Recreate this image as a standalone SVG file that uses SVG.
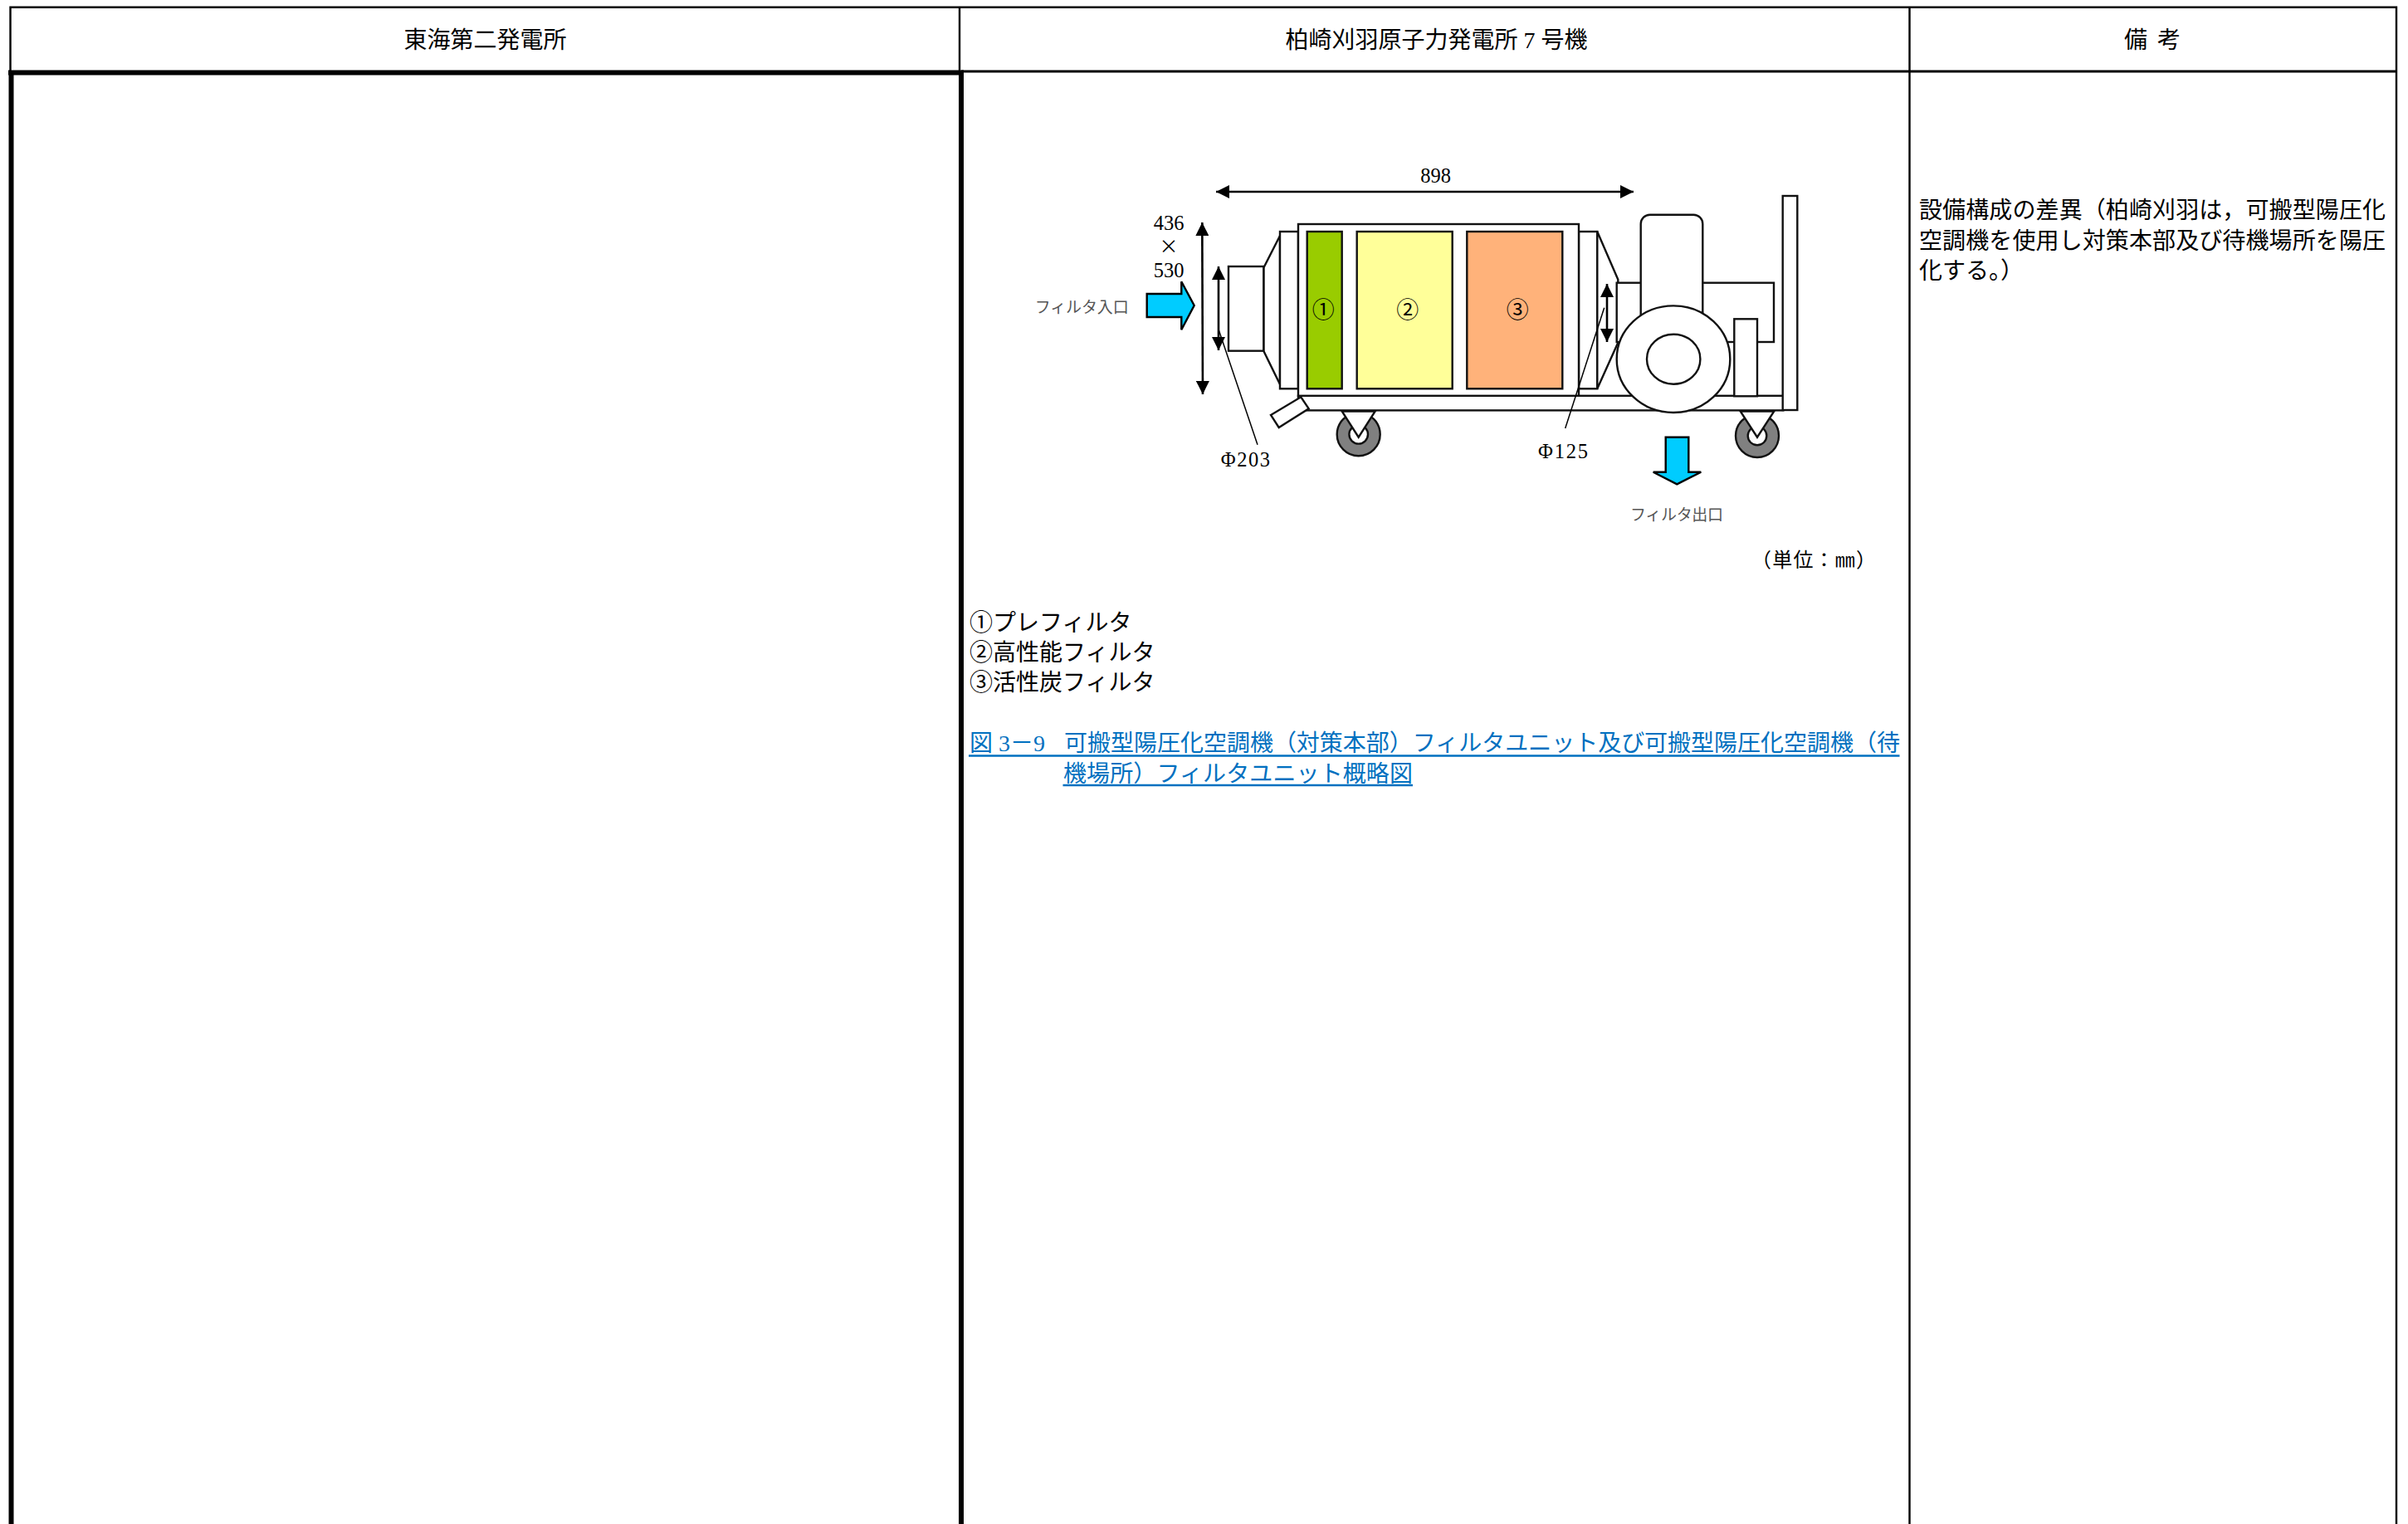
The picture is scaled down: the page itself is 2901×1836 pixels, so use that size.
<svg xmlns="http://www.w3.org/2000/svg" width="2901" height="1836" viewBox="0 0 2901 1836">
<defs>
<style>
text{font-family:"Liberation Serif","Noto Sans CJK JP",serif;fill:#000}
.h{font-size:28px;text-anchor:middle}
.b{font-size:28px}
.d{font-size:24.5px}
.x{font-size:23px;font-family:"Noto Sans CJK JP",sans-serif}
.s{font-size:19px;fill:#555}
.c{font-size:27px;text-anchor:middle}
.u{font-size:24px}
.l{font-size:28px;fill:#0070c0}
.o{fill:#fff;stroke:#111;stroke-width:2.4}
.cn{fill:none;stroke:#000;stroke-width:2.6}
.ld{fill:none;stroke:#000;stroke-width:1.5}
.arr{fill:#00ccff;stroke:#000;stroke-width:2.4}
.w{fill:#808080;stroke:#111;stroke-width:2.4}
</style>
<marker id="ah" markerUnits="userSpaceOnUse" markerWidth="16" markerHeight="16" viewBox="0 0 14 14" refX="14" refY="7" orient="auto-start-reverse"><path d="M0 0L14 7L0 14Z" fill="#000"/></marker>
</defs>
<rect width="2901" height="1836" fill="#fff"/>
<g id="table">
<path d="M12.5 87V8.7H2887V1836M1156 8.7V86M2300.5 8.7V1836" fill="none" stroke="#000" stroke-width="2.4"/>
<path d="M1158 86H2887" fill="none" stroke="#000" stroke-width="3"/>
<path d="M10 87.5H1161M13.5 87V1836M1158 87V1836" fill="none" stroke="#000" stroke-width="6"/>
</g>
<g id="headers">
<text class="h" x="584.5" y="58">東海第二発電所</text>
<text class="h" x="1730.5" y="58" textLength="364">柏崎刈羽原子力発電所 7 号機</text>
<text class="h" x="2593" y="58" textLength="68">備 考</text>
</g>
<g id="filter-unit">
<g id="base"><rect class="o" x="1564" y="476.8" width="584.3" height="17.6"/></g>
<g id="caster-left"><circle class="w" cx="1636.7" cy="523.3" r="26"/><circle class="o" cx="1636.7" cy="523.3" r="11.3"/><path class="o" d="M1616.7 495.5H1656.7L1636.7 526.7Z"/></g>
<g id="caster-right"><circle class="w" cx="2117" cy="525" r="26"/><circle class="o" cx="2117" cy="525" r="11.3"/><path class="o" d="M2096.7 495.5H2137.3L2117 526.7Z"/></g>
<g id="drain"><path class="o" d="M1531 500L1567.3 478.3L1576.7 492.3L1540.7 515Z"/></g>
<g id="post"><rect class="o" x="2147.7" y="236" width="17.6" height="258"/></g>
<g id="inlet-duct">
<path class="o" d="M1522.3 322.7L1542 284V463L1522.3 422.7Z"/>
<rect class="o" x="1480" y="321" width="42.3" height="101.7"/>
<rect class="o" x="1542" y="279" width="22" height="189.3"/>
</g>
<g id="outlet-duct">
<rect class="o" x="1902" y="279" width="22.3" height="189.3"/>
<path class="o" d="M1924.3 279L1949.3 336.7V412.7L1924.3 468.3Z"/>
</g>
<g id="casing"><rect class="o" x="1564" y="270" width="338" height="206.8"/></g>
<g id="filter-1"><rect x="1574.7" y="279" width="42" height="189.3" fill="#99cc00" stroke="#111" stroke-width="2.4"/><text class="c" x="1594.3" y="383">①</text></g>
<g id="filter-2"><rect x="1634.7" y="279" width="115" height="189.3" fill="#ffff99" stroke="#111" stroke-width="2.4"/><text class="c" x="1695.7" y="383">②</text></g>
<g id="filter-3"><rect x="1767.3" y="279" width="115" height="189.3" fill="#ffb27a" stroke="#111" stroke-width="2.4"/><text class="c" x="1828.3" y="383">③</text></g>
<g id="fan">
<rect class="o" x="1947.7" y="340.7" width="189.3" height="71.3"/>
<rect class="o" x="2089.3" y="384.3" width="27.7" height="93"/>
<rect class="o" x="1976.7" y="258.7" width="74.6" height="170" rx="11"/>
<ellipse class="o" cx="2016" cy="432.7" rx="68.3" ry="64.3"/>
<ellipse class="o" cx="2016.2" cy="432.7" rx="32.2" ry="30"/>
</g>
</g>
<g id="connectors">
<path class="cn" d="M1465 231H1968" marker-start="url(#ah)" marker-end="url(#ah)"/>
<path class="cn" d="M1448.3 268L1449 475" marker-start="url(#ah)" marker-end="url(#ah)"/>
<path class="cn" d="M1468 321V422" marker-start="url(#ah)" marker-end="url(#ah)"/>
<path class="cn" d="M1936 342V412" marker-start="url(#ah)" marker-end="url(#ah)"/>
<path class="ld" d="M1468 396.7L1515 535.7"/>
<path class="ld" d="M1932.7 370.7L1885.7 516"/>
</g>
<g id="flow-arrows">
<path id="inlet-arrow" class="arr" d="M1381.7 354H1423.3V339.3L1438.7 368L1423.3 397.3V382H1381.7Z"/>
<path id="outlet-arrow" class="arr" d="M2006.7 526.7H2034.3V568.7H2049.3L2020.3 583.3L1991.7 568.7H2006.7Z"/>
</g>
<g id="labels">
<text class="d" x="1729.5" y="220" text-anchor="middle">898</text>
<text class="d" x="1408" y="276.7" text-anchor="middle">436</text>
<text class="x" x="1408" y="305" text-anchor="middle">×</text>
<text class="d" x="1408" y="334" text-anchor="middle">530</text>
<text class="s" x="1246.7" y="377" textLength="113">フィルタ入口</text>
<text class="s" x="1964" y="626.7" textLength="112">フィルタ出口</text>
<text class="d" x="1470.7" y="561.7" textLength="59.3">Φ203</text>
<text class="d" x="1853" y="552.3" textLength="60">Φ125</text>
<text class="u" x="2110" y="683" textLength="150">（単位：㎜）</text>
</g>
<g id="legend">
<text class="b" x="1168" y="760">①プレフィルタ</text>
<text class="b" x="1168" y="796">②高性能フィルタ</text>
<text class="b" x="1168" y="832">③活性炭フィルタ</text>
</g>
<g id="caption">
<text class="l" x="1168" y="905">図 3－9</text>
<text class="l" x="1282" y="905" textLength="1007">可搬型陽圧化空調機（対策本部）フィルタユニット及び可搬型陽圧化空調機（待</text>
<text class="l" x="1281" y="942" textLength="421">機場所）フィルタユニット概略図</text>
<path d="M1167 910.5H2288.5M1280.5 946H1702" fill="none" stroke="#0070c0" stroke-width="2.6"/>
</g>
<g id="remarks">
<text class="b" x="2312" y="263" textLength="562">設備構成の差異（柏崎刈羽は，可搬型陽圧化</text>
<text class="b" x="2312" y="299.5" textLength="562">空調機を使用し対策本部及び待機場所を陽圧</text>
<text class="b" x="2312" y="336">化する。）</text>
</g>
</svg>
